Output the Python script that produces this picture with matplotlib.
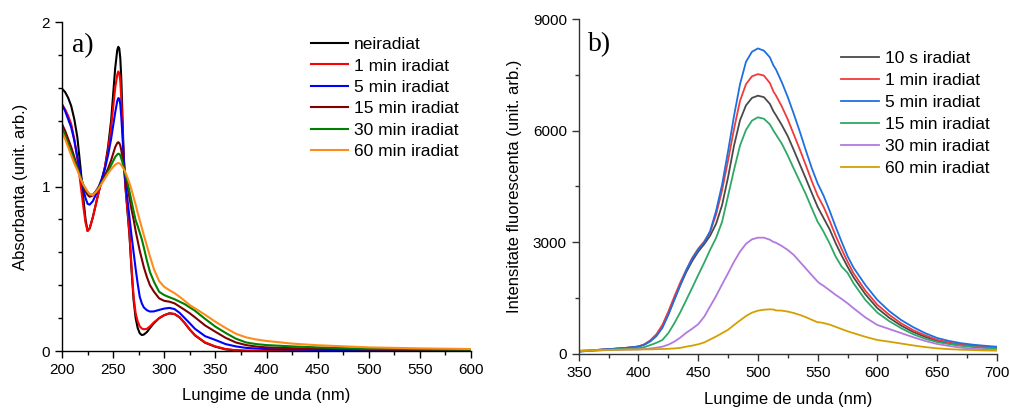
import matplotlib
matplotlib.use("Agg")
import matplotlib.pyplot as plt
from matplotlib.ticker import MultipleLocator

plt.rcParams["font.family"] = ["Liberation Sans", "DejaVu Sans"]

# --- a) absorption spectra ---
wl_abs = [200, 203, 206, 209, 212, 215, 218, 221, 223, 225,
          227, 230, 233, 236, 239, 242, 245, 248, 250, 252,
          254, 255, 256, 257, 258, 259, 260, 261, 262, 264,
          266, 268, 270, 272, 274, 276, 278, 280, 283, 286,
          290, 295, 300, 305, 310, 315, 320, 325, 330, 340,
          350, 360, 370, 380, 390, 400, 425, 450, 500, 550,
          600]
abs_0 = [1.595, 1.575, 1.54, 1.49, 1.41, 1.30, 1.12, 0.92, 0.80, 0.73,
         0.745, 0.81, 0.89, 0.97, 1.04, 1.12, 1.24, 1.40, 1.56, 1.72,
         1.83, 1.85, 1.84, 1.78, 1.65, 1.45, 1.25, 1.10, 1.00, 0.85,
         0.70, 0.49, 0.31, 0.20, 0.14, 0.108, 0.097, 0.10, 0.115, 0.14,
         0.17, 0.20, 0.218, 0.229, 0.225, 0.205, 0.17, 0.13, 0.095, 0.05,
         0.026, 0.01, 0.004, 0.001, 0.0, 0.0, 0.0, 0.0, 0.0, 0.0,
         0.0]
abs_1 = [1.50, 1.47, 1.43, 1.38, 1.29, 1.17, 1.02, 0.87, 0.78, 0.73,
         0.745, 0.81, 0.89, 0.97, 1.04, 1.12, 1.22, 1.36, 1.48, 1.60,
         1.68, 1.70, 1.69, 1.64, 1.53, 1.38, 1.22, 1.10, 1.00, 0.86,
         0.71, 0.51, 0.33, 0.23, 0.18, 0.15, 0.137, 0.132, 0.135, 0.15,
         0.175, 0.20, 0.218, 0.229, 0.225, 0.205, 0.17, 0.13, 0.097, 0.052,
         0.028, 0.012, 0.005, 0.002, 0.001, 0.001, 0.0, 0.0, 0.0, 0.0,
         0.0]
abs_5 = [1.50, 1.46, 1.41, 1.36, 1.28, 1.18, 1.08, 0.98, 0.93, 0.895,
         0.89, 0.91, 0.95, 1.00, 1.05, 1.11, 1.19, 1.29, 1.37, 1.45,
         1.52, 1.538, 1.535, 1.50, 1.42, 1.32, 1.21, 1.11, 1.03, 0.92,
         0.81, 0.70, 0.60, 0.50, 0.41, 0.33, 0.29, 0.265, 0.248, 0.24,
         0.241, 0.25, 0.258, 0.262, 0.255, 0.232, 0.20, 0.168, 0.135, 0.09,
         0.067, 0.042, 0.028, 0.019, 0.015, 0.012, 0.009, 0.007, 0.005, 0.004,
         0.003]
abs_15 = [1.38, 1.34, 1.29, 1.24, 1.18, 1.12, 1.06, 1.00, 0.97, 0.95,
          0.938, 0.945, 0.97, 1.00, 1.03, 1.07, 1.11, 1.16, 1.20, 1.24,
          1.265, 1.27, 1.265, 1.25, 1.22, 1.18, 1.14, 1.10, 1.07, 1.00,
          0.93, 0.86, 0.80, 0.73, 0.67, 0.61, 0.56, 0.51, 0.45, 0.40,
          0.36, 0.32, 0.305, 0.30, 0.29, 0.27, 0.25, 0.229, 0.205, 0.155,
          0.117, 0.08, 0.052, 0.036, 0.027, 0.022, 0.017, 0.014, 0.009, 0.007,
          0.005]
abs_30 = [1.358, 1.31, 1.26, 1.21, 1.16, 1.11, 1.06, 1.01, 0.985, 0.965,
          0.952, 0.95, 0.97, 0.995, 1.025, 1.055, 1.09, 1.13, 1.155, 1.18,
          1.195, 1.20, 1.198, 1.19, 1.17, 1.15, 1.125, 1.10, 1.07, 1.03,
          0.97, 0.91, 0.85, 0.795, 0.76, 0.72, 0.68, 0.63, 0.55, 0.48,
          0.42, 0.36, 0.34, 0.327, 0.315, 0.30, 0.285, 0.265, 0.245, 0.195,
          0.148, 0.11, 0.075, 0.052, 0.042, 0.036, 0.028, 0.022, 0.013, 0.01,
          0.008]
abs_60 = [1.331, 1.29, 1.24, 1.19, 1.14, 1.10, 1.05, 1.01, 0.99, 0.97,
          0.955, 0.948, 0.965, 0.99, 1.02, 1.05, 1.08, 1.105, 1.12, 1.133,
          1.141, 1.143, 1.142, 1.138, 1.13, 1.12, 1.11, 1.10, 1.085, 1.055,
          1.02, 0.98, 0.935, 0.89, 0.84, 0.795, 0.75, 0.705, 0.64, 0.575,
          0.495, 0.425, 0.39, 0.37, 0.352, 0.33, 0.305, 0.279, 0.26, 0.22,
          0.178, 0.14, 0.105, 0.083, 0.07, 0.061, 0.045, 0.035, 0.022, 0.016,
          0.012]
abs_labels = ["neiradiat", "1 min iradiat", "5 min iradiat", "15 min iradiat",
              "30 min iradiat", "60 min iradiat"]
abs_colors = ["#000000", "#ff0000", "#0000ff", "#800000", "#008000", "#ff8c1a"]

# --- b) fluorescence spectra ---
wl_fl = [350, 360, 370, 380, 390, 400, 405, 410, 415, 420,
         425, 430, 435, 440, 445, 450, 455, 460, 465, 470,
         475, 480, 485, 490, 495, 500, 505, 510, 513, 515,
         520, 525, 530, 535, 540, 545, 550, 552, 555, 560,
         565, 570, 575, 580, 590, 600, 610, 620, 630, 640,
         650, 660, 670, 680, 690, 700]
fl_10s = [80, 95, 120, 140, 165, 200, 255, 350, 500, 730,
          1080, 1470, 1850, 2200, 2500, 2750, 2950, 3180, 3500, 4000,
          4750, 5600, 6280, 6680, 6880, 6940, 6900, 6720, 6520, 6420,
          6150, 5850, 5480, 5100, 4720, 4330, 3950, 3830, 3650, 3350,
          2980, 2650, 2345, 2060, 1600, 1230, 970, 760, 590, 460,
          350, 290, 240, 205, 180, 161]
fl_1 = [80, 95, 120, 140, 165, 200, 260, 370, 530, 780,
        1140, 1540, 1920, 2260, 2580, 2830, 3020, 3280, 3750, 4400,
        5200, 6050, 6800, 7250, 7460, 7520, 7480, 7280, 7050, 6950,
        6650, 6300, 5900, 5500, 5080, 4650, 4250, 4130, 3950, 3580,
        3180, 2820, 2480, 2170, 1700, 1320, 1050, 820, 640, 500,
        380, 310, 255, 215, 190, 170]
fl_5 = [60, 90, 120, 140, 165, 200, 250, 340, 480, 700,
        1050, 1450, 1850, 2250, 2560, 2800, 3000, 3300, 3850, 4550,
        5450, 6400, 7250, 7850, 8120, 8210, 8150, 7970, 7750, 7650,
        7300, 6900, 6450, 5980, 5480, 5000, 4580, 4450, 4250, 3850,
        3420, 3020, 2630, 2320, 1850, 1450, 1150, 910, 720, 560,
        430, 350, 290, 250, 220, 195]
fl_15 = [70, 85, 105, 120, 135, 150, 185, 240, 300, 376,
         560, 824, 1120, 1450, 1780, 2120, 2450, 2800, 3120, 3550,
         4250, 4950, 5600, 6020, 6270, 6359, 6320, 6170, 6000, 5900,
         5650, 5330, 4980, 4640, 4300, 3920, 3550, 3450, 3280, 2970,
         2620, 2350, 2180, 1900, 1450, 1110, 880, 690, 530, 410,
         320, 265, 220, 185, 160, 143]
fl_30 = [70, 85, 100, 110, 118, 121, 132, 148, 170, 197,
         250, 331, 440, 570, 680, 800, 1000, 1280, 1560, 1870,
         2170, 2480, 2750, 2960, 3080, 3125, 3125, 3070, 3010, 2990,
         2900, 2794, 2660, 2480, 2300, 2120, 1943, 1890, 1830, 1710,
         1590, 1480, 1362, 1230, 980, 779, 670, 560, 450, 350,
         269, 215, 170, 140, 120, 107]
fl_60 = [90, 100, 108, 113, 118, 121, 123, 125, 129, 134,
         140, 148, 165, 197, 225, 260, 310, 390, 470, 560,
         650, 780, 900, 1020, 1110, 1164, 1190, 1200, 1195, 1170,
         1165, 1140, 1100, 1050, 990, 920, 851, 850, 830, 790,
         730, 670, 610, 560, 460, 376, 330, 280, 230, 185,
         152, 130, 115, 105, 95, 90]
fl_labels = ["10 s iradiat", "1 min iradiat", "5 min iradiat", "15 min iradiat",
             "30 min iradiat", "60 min iradiat"]
fl_colors = ["#4a4a4a", "#ef3b3b", "#1f6fe0", "#2fa865", "#b279e0", "#d4a000"]

fig = plt.figure(figsize=(10.1, 4.08), dpi=100)
ax1 = fig.add_axes([0.0614, 0.1397, 0.405, 0.806])
ax2 = fig.add_axes([0.573, 0.1324, 0.414, 0.821])

for ys, lab, c in zip([abs_0, abs_1, abs_5, abs_15, abs_30, abs_60], abs_labels, abs_colors):
    ax1.plot(wl_abs, ys, color=c, lw=1.5, label=lab)
for ys, lab, c in zip([fl_10s, fl_1, fl_5, fl_15, fl_30, fl_60], fl_labels, fl_colors):
    ax2.plot(wl_fl, ys, color=c, lw=1.3, label=lab)

ax1.set_xlim(200, 600)
ax1.set_ylim(0, 2)
ax1.xaxis.set_major_locator(MultipleLocator(50))
ax1.xaxis.set_minor_locator(MultipleLocator(25))
ax1.yaxis.set_major_locator(MultipleLocator(1))
ax1.yaxis.set_minor_locator(MultipleLocator(0.2))
ax1.set_xlabel("Lungime de unda (nm)", fontsize=12, labelpad=8)
ax1.set_ylabel("Absorbanta (unit. arb.)", fontsize=12, labelpad=10)

ax2.set_xlim(350, 700)
ax2.set_ylim(0, 9000)
ax2.xaxis.set_major_locator(MultipleLocator(50))
ax2.xaxis.set_minor_locator(MultipleLocator(25))
ax2.yaxis.set_major_locator(MultipleLocator(3000))
ax2.yaxis.set_minor_locator(MultipleLocator(1500))
ax2.set_xlabel("Lungime de unda (nm)", fontsize=12, labelpad=9)
ax2.set_ylabel("Intensitate fluorescenta (unit. arb.)", fontsize=12, labelpad=8)

for ax, sc in [(ax1, "black"), (ax2, "#333333")]:
    for s in ["top", "right"]:
        ax.spines[s].set_visible(False)
    for s in ["left", "bottom"]:
        ax.spines[s].set_color(sc)
        ax.spines[s].set_linewidth(1.0)
    ax.tick_params(which="major", direction="out", length=5, width=1, labelsize=11, colors=sc)
    ax.tick_params(which="minor", direction="out", length=3, width=1, colors=sc)
    ax.tick_params(labelcolor="black")

ax1.text(0.025, 0.93, "a)", transform=ax1.transAxes, fontsize=20,
         family="Liberation Serif", va="center", ha="left")
ax2.text(0.022, 0.925, "b)", transform=ax2.transAxes, fontsize=20,
         family="Liberation Serif", va="center", ha="left")

ax1.legend(loc="upper left", bbox_to_anchor=(0.609, 0.955), frameon=False, fontsize=12.5,
           handlelength=2.13, handletextpad=0.35, labelspacing=0.36, borderaxespad=0,
           borderpad=0)
ax2.legend(loc="upper left", bbox_to_anchor=(0.627, 0.905), frameon=False, fontsize=12.5,
           handlelength=2.2, handletextpad=0.35, labelspacing=0.39, borderaxespad=0,
           borderpad=0)

fig.savefig("out.png", dpi=100)
